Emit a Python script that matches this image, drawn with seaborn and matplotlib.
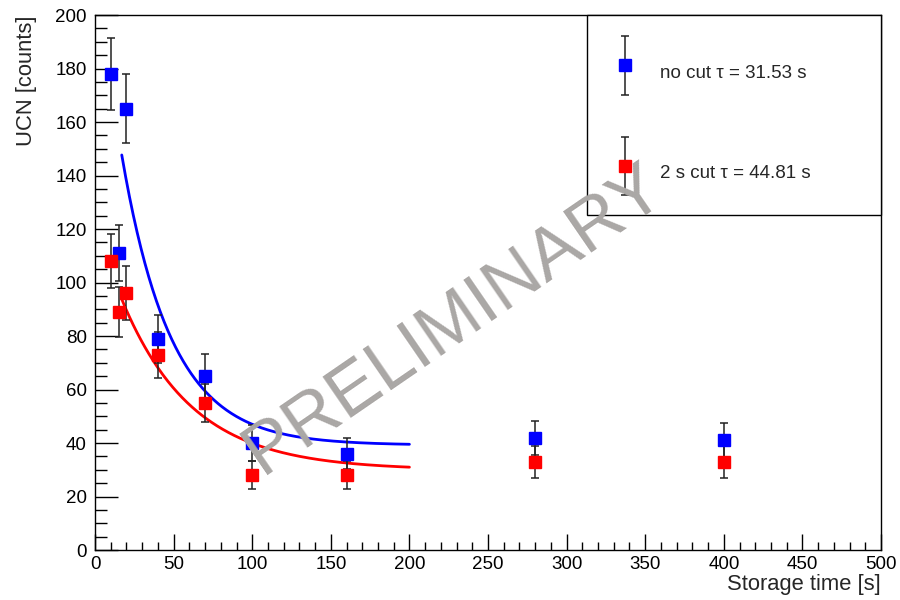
import numpy as np
import pandas as pd
import matplotlib
matplotlib.use("Agg")
import matplotlib.pyplot as plt
import seaborn as sns
from matplotlib.legend_handler import HandlerErrorbar
from matplotlib.patches import Rectangle
from matplotlib.ticker import MultipleLocator

# storage time scan, counts per run
storage_time = [10, 15, 20, 40, 70, 100, 160, 280, 400]
nocut_counts = [178, 111, 165, 79, 65, 40, 36, 42, 41]
nocut_err = [13.5, 10.5, 13, 9, 8.3, 6.7, 5.7, 6.4, 6.4]
cut2_counts = [108, 89, 96, 73, 55, 28, 28, 33, 33]
cut2_err = [10, 9.5, 10, 8.6, 7.1, 5.2, 5.2, 6, 6]

# exponential fit results: A * exp(-t / tau) + C, fitted over 17..200 s
fit_range = (17, 200)
nocut_fit = dict(A=186.0, tau=31.53, C=39.2)
cut2_fit = dict(A=93.3, tau=44.81, C=29.9)

labels = ["no cut \u03c4 = 31.53 s", "2 s cut \u03c4 = 44.81 s"]

sns.set_style("ticks")
plt.rcParams["font.family"] = ["Liberation Sans", "DejaVu Sans"]

fig = plt.figure(figsize=(9, 6), dpi=100)
ax = fig.add_axes([0.1056, 0.0833, 0.8733, 0.8917])

df = pd.DataFrame({
    "t": storage_time * 2,
    "counts": nocut_counts + cut2_counts,
    "err": nocut_err + cut2_err,
    "set": [labels[0]] * len(storage_time) + [labels[1]] * len(storage_time),
})

t_fit = np.linspace(fit_range[0], fit_range[1], 300)
fit_df = pd.concat([
    pd.DataFrame({"t": t_fit, "counts": p["A"] * np.exp(-t_fit / p["tau"]) + p["C"], "set": lab})
    for p, lab in [(nocut_fit, labels[0]), (cut2_fit, labels[1])]
])

palette = {labels[0]: "#0000ff", labels[1]: "#ff0000"}

sns.lineplot(data=fit_df, x="t", y="counts", hue="set", palette=palette,
             linewidth=2, legend=False, ax=ax, zorder=2)

handles = []
for lab in labels:
    sub = df[df["set"] == lab]
    h = ax.errorbar(sub["t"], sub["counts"], yerr=sub["err"], fmt="s",
                    color=palette[lab], ms=8.5, mec=palette[lab],
                    ecolor="#222222", elinewidth=1.1, capsize=3, capthick=1.1,
                    zorder=3)
    handles.append(h)

ax.set_xlim(0, 500)
ax.set_ylim(0, 200)
ax.xaxis.set_major_locator(MultipleLocator(50))
ax.xaxis.set_minor_locator(MultipleLocator(10))
ax.yaxis.set_major_locator(MultipleLocator(20))
ax.yaxis.set_minor_locator(MultipleLocator(5))
ax.tick_params(axis="both", which="both", direction="in", colors="black",
               labelsize=13.5, width=1)
ax.tick_params(axis="x", which="major", length=11.5, pad=4)
ax.tick_params(axis="x", which="minor", length=5.8)
ax.tick_params(axis="y", which="major", length=16.5, pad=6)
ax.tick_params(axis="y", which="minor", length=8.3)
for sp in ax.spines.values():
    sp.set_color("black")
    sp.set_linewidth(1)

ax.set_xlabel("Storage time [s]", fontsize=15.8, loc="right")
ax.set_ylabel("UCN [counts]", fontsize=15.8, loc="top")
ax.xaxis.set_label_coords(1.0, -0.045)
ax.yaxis.set_label_coords(-0.074, 1.0)

# legend box in the upper right corner, ROOT style
ax.add_patch(Rectangle((0.626, 0.626), 0.374, 0.374, transform=ax.transAxes,
                       facecolor="white", edgecolor="black", linewidth=1,
                       zorder=4, clip_on=False))
leg = ax.legend(handles, labels, loc="center left",
                bbox_to_anchor=(0.658, 0.800), fontsize=13.5, frameon=False,
                borderpad=0, borderaxespad=0, handlelength=1.4,
                handleheight=2.67, labelspacing=3.36, handletextpad=1.17,
                handler_map={type(handles[0]): HandlerErrorbar(yerr_size=1.55)})
leg.set_zorder(5)

ax.text(0.457, 0.43, "PRELIMINARY", transform=ax.transAxes, rotation=34.5,
        ha="center", va="center", fontsize=52.5, color="#aaa7a5", zorder=6)

fig.savefig("out.png", dpi=100)
